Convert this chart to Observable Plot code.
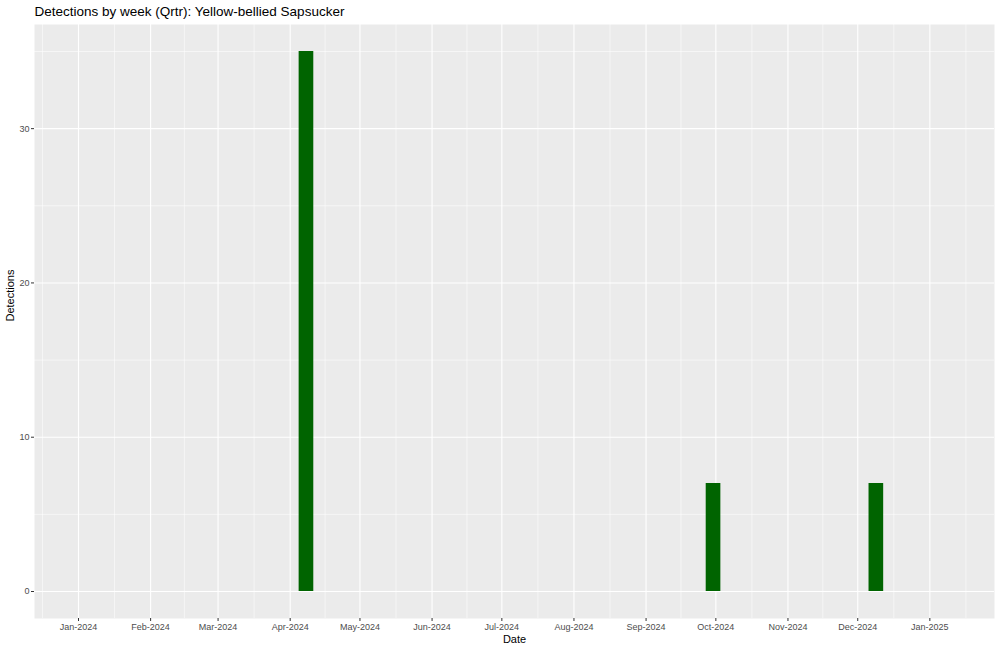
<!DOCTYPE html>
<html>
<head>
<meta charset="utf-8">
<script src="https://cdn.jsdelivr.net/npm/d3@7"></script>
<script src="https://cdn.jsdelivr.net/npm/@observablehq/plot@0.6"></script>
<style>
  html, body { margin: 0; padding: 0; background: #ffffff; }
  #chart { width: 1000px; height: 651px; }
  svg { display: block; }
</style>
</head>
<body>
<div id="chart"></div>
<script>
// ---- Data ----
const chartTitle = "Detections by week (Qrtr): Yellow-bellied Sapsucker";
const xTitle = "Date";
const yTitle = "Detections";
const weekDates = ["2024-04-08", "2024-09-30", "2024-12-09"];
const detections = [35, 7, 7];
const monthTicks = ["2024-01-01","2024-02-01","2024-03-01","2024-04-01","2024-05-01","2024-06-01",
  "2024-07-01","2024-08-01","2024-09-01","2024-10-01","2024-11-01","2024-12-01","2025-01-01"];
const yTicks = [0, 10, 20, 30];
const yMinorTicks = [5, 15, 25, 35];
const xDomain = ["2023-12-13T02:00:00Z", "2025-01-28T19:00:00Z"];
const yDomain = [-1.75, 36.75];

// ---- Build ----
const parse = s => new Date(s.length === 10 ? s + "T00:00:00Z" : s);
const DAY = 864e5;
const halfBar = 3.15 * DAY;
const rows = weekDates.map((d, i) => ({date: parse(d), value: detections[i]}));
const majors = monthTicks.map(parse);
// minor breaks: midpoints between consecutive month breaks (incl. neighbours)
const extMonths = [d3.utcMonth.offset(majors[0], -1), ...majors, d3.utcMonth.offset(majors[majors.length - 1], 1)];
const minors = d3.pairs(extMonths).map(([a, b]) => new Date((+a + +b) / 2));

const font = "'Liberation Sans', Arial, Helvetica, sans-serif";

const plot = Plot.plot({
  width: 1000,
  height: 651,
  marginLeft: 34,
  marginRight: 6,
  marginTop: 24,
  marginBottom: 33,
  style: {fontFamily: font, fontSize: "9px", background: "#ffffff", overflow: "visible"},
  x: {type: "utc", domain: xDomain.map(parse)},
  y: {domain: yDomain},
  marks: [
    Plot.frame({fill: "#EBEBEB", stroke: null}),
    Plot.ruleX(minors, {stroke: "#ffffff", strokeWidth: 0.55}),
    Plot.ruleY(yMinorTicks, {stroke: "#ffffff", strokeWidth: 0.55}),
    Plot.ruleX(majors, {stroke: "#ffffff", strokeWidth: 1.1}),
    Plot.ruleY(yTicks, {stroke: "#ffffff", strokeWidth: 1.1}),
    Plot.rectY(rows, {
      x1: d => new Date(+d.date - halfBar),
      x2: d => new Date(+d.date + halfBar),
      y1: 0,
      y2: "value",
      fill: "#006400"
    }),
    Plot.axisX({
      ticks: majors, tickFormat: d3.utcFormat("%b-%Y"), tickSize: 3, tickPadding: 2,
      stroke: "#333333", fill: "#4D4D4D", label: null
    }),
    Plot.axisY({
      ticks: yTicks, tickSize: 3, tickPadding: 2,
      stroke: "#333333", fill: "#4D4D4D", label: null
    }),
    Plot.text([xTitle], {frameAnchor: "bottom", dy: 21, text: d => d, fontSize: 11, fill: "#000000", lineAnchor: "middle"}),
    Plot.text([yTitle], {frameAnchor: "left", dx: -24, rotate: -90, text: d => d, fontSize: 11, fill: "#000000", lineAnchor: "middle"}),
    Plot.text([chartTitle], {frameAnchor: "top-left", dy: -13, text: d => d, fontSize: 13.5, fill: "#000000", textAnchor: "start", lineAnchor: "middle"})
  ]
});
document.getElementById("chart").appendChild(plot);
</script>
</body>
</html>
